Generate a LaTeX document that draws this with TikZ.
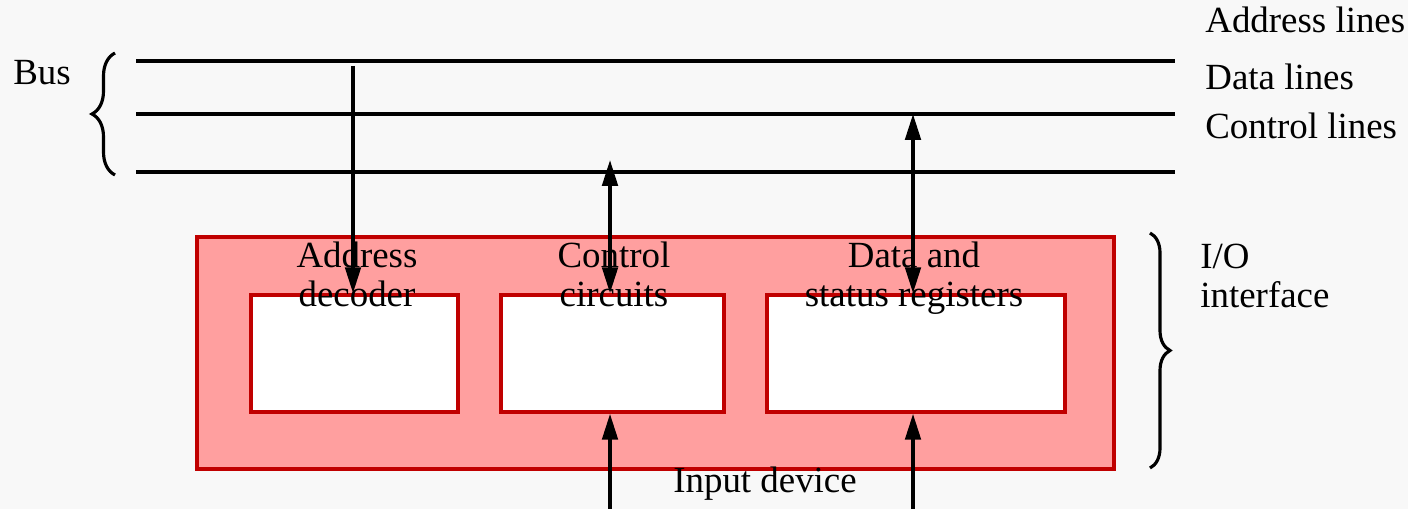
\documentclass[tikz,border=0pt]{standalone}
\usepackage{fontspec}
\setmainfont{Liberation Serif}
\usetikzlibrary{arrows.meta,decorations.pathreplacing}
\definecolor{slidebg}{HTML}{F8F8F8}
\definecolor{ifacefill}{HTML}{FF9F9F}
\definecolor{ifaceedge}{HTML}{C00000}
\begin{document}
\begin{tikzpicture}[x=0.02cm,y=-0.02cm,font=\fontsize{21}{22.5}\selectfont,
    busline/.style={line width=2pt},
    link/.style={line width=2pt,-{Triangle[length=0.52cm,width=0.31cm]}},
    twoway/.style={line width=2pt,{Triangle[length=0.52cm,width=0.31cm]}-{Triangle[length=0.52cm,width=0.31cm]}},
    regbox/.style={draw=ifaceedge,line width=2pt,fill=white,inner sep=0pt,minimum height=2.34cm},
    bracket/.style={decorate,line width=1.8pt,decoration={brace,amplitude=#1}}]
      \useasboundingbox (0,0) rectangle (1408,509);
      \fill[slidebg] (0,0) rectangle (1408,509);
      % bus
      \foreach \y/\nm in {61/addr,114/data,172/ctrl} {
        \coordinate (\nm-w) at (136,\y);
        \coordinate (\nm-e) at (1175,\y);
        \draw[busline] (\nm-w) -- (\nm-e);
      }
      \draw[bracket=0.46cm] (115,175) -- (115,53);
      \node[anchor=base] (busname) at (42,85) {Bus};
      \foreach \y/\txt/\nm in {33/Address lines/addrname,90/Data lines/dataname,139/Control lines/ctrlname}
        \node[anchor=base west,inner sep=0pt] (\nm) at (1205,\y) {\txt};
      % interface
      \node[draw=ifaceedge,fill=ifacefill,line width=2pt,minimum width=18.34cm,minimum height=4.64cm] (iface) at (655.5,353) {};
      \node[regbox,minimum width=4.14cm] (addrbox) at (354.5,353.5) {};
      \node[regbox,minimum width=4.46cm] (ctrlbox) at (612.5,353.5) {};
      \node[regbox,minimum width=5.96cm] (databox) at (916,353.5) {};
      \node[anchor=base,align=center,inner sep=0pt] (addrname) at (357,307) {Address\\decoder};
      \node[anchor=base,align=center,inner sep=0pt] (ctrlname) at (614,307) {Control\\circuits};
      \node[anchor=base,align=center,inner sep=0pt] (dataname) at (914,307) {Data and\\status registers};
      \draw[bracket=0.4cm] (1150,233) -- (1150,468);
      \node[anchor=base west,align=left,inner sep=0pt] (ioname) at (1200,308) {I/O\\interface};
      \node[anchor=base,inner sep=0pt] (inname) at (765,492) {Input device};
      % connectors
      \coordinate (addr-tap) at (353,66);
      \coordinate (ctrl-tap) at (610,160);
      \coordinate (data-tap) at (913,114);
      \coordinate (ctrl-in) at (610,509);
      \coordinate (data-in) at (913,509);
      \draw[link] (addr-tap) -- (addrbox.north -| addr-tap);
      \draw[twoway] (ctrl-tap) -- (ctrlbox.north -| ctrl-tap);
      \draw[twoway] (data-tap) -- (databox.north -| data-tap);
      \draw[link] (ctrl-in) -- (ctrlbox.south -| ctrl-in);
      \draw[link] (data-in) -- (databox.south -| data-in);
\end{tikzpicture}
\end{document}
